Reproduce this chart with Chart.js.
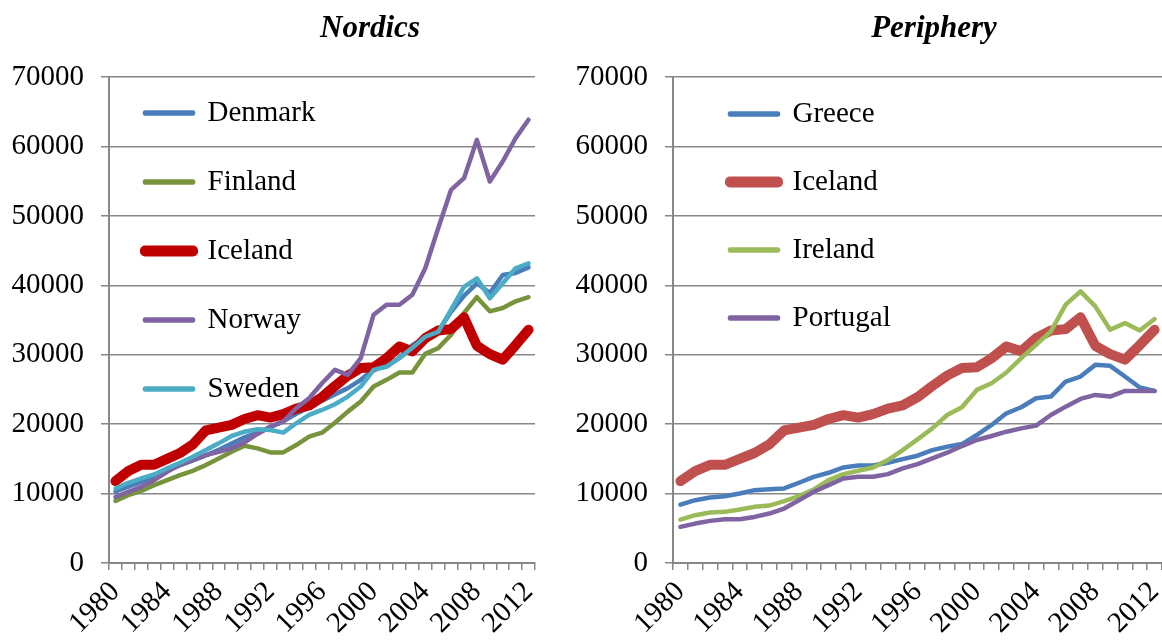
<!DOCTYPE html>
<html><head><meta charset="utf-8">
<script src="https://cdn.jsdelivr.net/npm/chart.js@4.4.0/dist/chart.umd.min.js"></script>
<style>
html,body{margin:0;padding:0;background:#fff;overflow:hidden}
#wrap{position:relative;width:1162px;height:642px;background:#fff}
.c{position:absolute;top:0}
</style></head><body>
<div id="wrap">
<canvas id="left" class="c" style="left:0" width="580" height="642"></canvas>
<canvas id="right" class="c" style="left:560px" width="602" height="642"></canvas>
</div>
<script>
const years = ['1980','1981','1982','1983','1984','1985','1986','1987','1988','1989','1990','1991','1992','1993','1994','1995','1996','1997','1998','1999','2000','2001','2002','2003','2004','2005','2006','2007','2008','2009','2010','2011','2012'];
const xTickLabels = ['1980','1984','1988','1992','1996','2000','2004','2008','2012'];
const yTickValues = [0,10000,20000,30000,40000,50000,60000,70000];

const denmark  = [10300,11000,11700,12400,13400,14100,14800,15500,16300,17200,18100,18800,19600,20400,21500,22400,23400,24300,25200,26400,27900,28300,29600,31400,32500,33400,36200,38500,40300,38900,41500,41800,42600];
const finland  = [8960,9770,10400,11220,11940,12660,13290,14110,15070,16030,16900,16520,15940,15940,17000,18200,18780,20220,21810,23260,25420,26390,27450,27450,30140,30960,32890,36020,38300,36260,36740,37700,38300];
const iceland  = [11800,13250,14150,14150,15000,15850,17100,19100,19500,19900,20750,21300,20950,21450,22250,22700,23900,25500,27000,28100,28200,29500,31200,30500,32400,33500,33700,35400,31300,30100,29300,31400,33600];
const norway   = [9530,10260,10980,11940,13150,14110,14830,15550,16030,16520,17380,18590,19640,20370,22290,23740,25900,27830,27110,29520,35780,37220,37220,38660,42470,48240,53770,55450,60980,54970,57850,61220,63870];
const sweden   = [10740,11560,12180,12760,13630,14450,15310,16270,17240,18300,18920,19260,19160,18780,20130,21330,22050,22870,23980,25420,27830,28310,29520,31000,32600,33300,36500,39800,41020,38140,40300,42470,43190];
const greece   = [8400,9050,9440,9630,10020,10500,10640,10740,11560,12420,13000,13770,14060,14060,14450,14970,15460,16270,16760,17140,18440,19890,21570,22440,23740,23980,26150,26870,28550,28410,26870,25280,24800];
const ireland  = [6260,6890,7270,7370,7700,8090,8280,8910,9630,10590,11940,12810,13290,13770,14830,16270,17820,19400,21330,22440,24940,25900,27450,29520,31440,33370,37220,39150,36980,33610,34570,33510,35150];
const portugal = [5200,5680,6070,6310,6310,6640,7130,7850,9050,10260,11220,12180,12420,12420,12810,13630,14250,15070,15890,16850,17720,18300,18920,19400,19790,21330,22530,23640,24220,23980,24800,24800,24800];

const FONT = 'Liberation Serif';
const GRID = '#878787';

function ds(label, data, color, width, idx, n) {
  return {label, data, borderColor: color, backgroundColor: color, borderWidth: width,
    pointRadius: 0, pointHoverRadius: 0, tension: 0, fill: false,
    borderJoinStyle: 'round', borderCapStyle: 'round', order: n - 1 - idx};
}

const placePlugin = {
  id: 'place',
  afterLayout(chart, args, opts) {
    if (chart.legend) { chart.legend.left = opts.legendLeft; chart.legend.top = opts.legendTop; }
    if (chart.titleBlock) { chart.titleBlock.left = opts.titleX - 150; chart.titleBlock.right = opts.titleX + 150; }
  }
};

function makeChart(id, title, sets, cfg) {
  const n = sets.length;
  return new Chart(document.getElementById(id), {
    type: 'line',
    data: { labels: years, datasets: sets.map((s, i) => ds(s[0], s[1], s[2], s[3], i, n)) },
    plugins: [placePlugin],
    options: {
      responsive: false, animation: false,
      layout: { padding: { top: 0, right: cfg.padRight, bottom: 0, left: 0 } },
      plugins: {
        place: { legendLeft: cfg.legendLeft, legendTop: cfg.legendTop, titleX: cfg.titleX },
        title: { display: true, text: title, color: '#000',
          font: { family: FONT, size: 31, style: 'italic', weight: 'bold' },
          padding: { top: 10, bottom: 30 } },
        legend: { display: true, position: 'chartArea', align: 'start',
          labels: { color: '#000', font: { family: FONT, size: 29 }, boxWidth: 48, boxHeight: 1,
            padding: cfg.legendPad, sort: (a, b) => a.datasetIndex - b.datasetIndex } },
        tooltip: { enabled: false }
      },
      scales: {
        x: {
          offset: true,
          grid: { offset: true, drawOnChartArea: false, drawTicks: true, tickLength: 7, color: GRID, lineWidth: 1.5 },
          border: { display: true, color: GRID, width: 2 },
          ticks: { autoSkip: false, minRotation: 45, maxRotation: 45, padding: 5, color: '#000',
            font: { family: FONT, size: 29 },
            callback: function(v, i) { const y = years[i]; return xTickLabels.includes(y) ? y : ''; } },
          afterFit: (s) => { s.height = 79; s.paddingLeft = 0; s.paddingRight = 0; }
        },
        y: {
          min: 0, max: 70000,
          grid: { color: GRID, lineWidth: 1.5, drawTicks: true, tickLength: 8 },
          border: { display: true, color: GRID, width: 2 },
          afterBuildTicks: (s) => { s.ticks = yTickValues.map(v => ({ value: v })); },
          ticks: { color: '#000', padding: cfg.yPad, font: { family: FONT, size: 29 },
            callback: (v) => String(v) },
          afterFit: (s) => { s.width = cfg.yWidth; s.paddingTop = 0; s.paddingBottom = 0; }
        }
      }
    }
  });
}

makeChart('left', 'Nordics', [
  ['Denmark', denmark, '#4A7EBB', 4.5],
  ['Finland', finland, '#77933C', 4.5],
  ['Iceland', iceland, '#C00000', 10],
  ['Norway', norway, '#8064A2', 4.5],
  ['Sweden', sweden, '#4BACC6', 4.5]
], { padRight: 45, yWidth: 109, yPad: 17, legendLeft: 105, legendTop: 58.5, legendPad: 40, titleX: 370 });

makeChart('right', 'Periphery', [
  ['Greece', greece, '#4A7EBB', 4.5],
  ['Iceland', iceland, '#C0504D', 10],
  ['Ireland', ireland, '#9BBB59', 4.5],
  ['Portugal', portugal, '#8064A2', 4.5]
], { padRight: 0, yWidth: 113, yPad: 17, legendLeft: 131, legendTop: 60.5, legendPad: 39, titleX: 374 });
</script>
</body></html>
